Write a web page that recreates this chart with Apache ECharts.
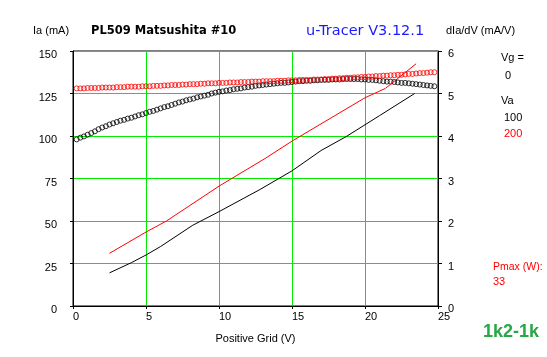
<!DOCTYPE html>
<html>
<head>
<meta charset="utf-8">
<script src="https://cdn.jsdelivr.net/npm/echarts@6/dist/echarts.min.js"></script>
<style>
html,body{margin:0;padding:0;background:#fff;}
#c{width:547px;height:357px;}
</style>
</head>
<body>
<div id="c"></div>
<script>
// Grid voltage steps for the gm (dIa/dV) measurements, V
var gmGridV = [
0.25,0.5,0.75,1.0,1.25,1.5,1.75,2.0,2.25,2.5,
2.75,3.0,3.25,3.5,3.75,4.0,4.25,4.5,4.75,5.0,
5.25,5.5,5.75,6.0,6.25,6.5,6.75,7.0,7.25,7.5,
7.75,8.0,8.25,8.5,8.75,9.0,9.25,9.5,9.75,10.0,
10.25,10.5,10.75,11.0,11.25,11.5,11.75,12.0,12.25,12.5,
12.75,13.0,13.25,13.5,13.75,14.0,14.25,14.5,14.75,15.0,
15.25,15.5,15.75,16.0,16.25,16.5,16.75,17.0,17.25,17.5,
17.75,18.0,18.25,18.5,18.75,19.0,19.25,19.5,19.75,20.0,
20.25,20.5,20.75,21.0,21.25,21.5,21.75,22.0,22.25,22.5,
22.75,23.0,23.25,23.5,23.75,24.0,24.25,24.5,24.75
];
// dIa/dV (mA/V), Va = 100 V
var gmVa100 = [
3.92,3.96,3.99,4.03,4.07,4.11,4.16,4.20,4.23,4.27,
4.30,4.33,4.36,4.38,4.41,4.43,4.46,4.49,4.51,4.54,
4.57,4.59,4.62,4.65,4.68,4.70,4.73,4.76,4.79,4.81,
4.84,4.86,4.88,4.91,4.93,4.95,4.97,5.00,5.02,5.04,
5.05,5.07,5.08,5.10,5.11,5.12,5.14,5.15,5.16,5.18,
5.19,5.20,5.21,5.22,5.23,5.24,5.25,5.25,5.26,5.27,
5.28,5.29,5.29,5.30,5.30,5.31,5.31,5.32,5.32,5.32,
5.33,5.33,5.33,5.34,5.34,5.34,5.34,5.34,5.33,5.33,
5.32,5.32,5.31,5.30,5.29,5.28,5.28,5.27,5.26,5.25,
5.25,5.24,5.23,5.22,5.21,5.20,5.19,5.18,5.17
];
// dIa/dV (mA/V), Va = 200 V
var gmVa200 = [
5.12,5.12,5.12,5.13,5.13,5.13,5.13,5.14,5.14,5.14,
5.14,5.15,5.15,5.15,5.16,5.16,5.16,5.16,5.17,5.17,
5.17,5.18,5.18,5.18,5.19,5.19,5.20,5.20,5.20,5.21,
5.21,5.22,5.22,5.22,5.23,5.23,5.24,5.24,5.24,5.25,
5.25,5.25,5.26,5.26,5.26,5.27,5.27,5.27,5.28,5.28,
5.28,5.29,5.29,5.29,5.29,5.30,5.30,5.30,5.31,5.31,
5.31,5.32,5.32,5.32,5.32,5.33,5.33,5.33,5.34,5.34,
5.35,5.35,5.36,5.36,5.37,5.37,5.38,5.38,5.39,5.39,
5.40,5.40,5.41,5.41,5.42,5.42,5.43,5.43,5.44,5.44,
5.45,5.46,5.46,5.47,5.48,5.48,5.49,5.50,5.50
];
// Anode current Ia (mA) vs positive grid voltage
var iaVa100GridV = [2.5,4,5,6,8.2,10,12.8,15,17,18.7,21,23.4];
var iaVa100 = [19.5,25.5,30,35,47.5,55.5,68.5,79.5,91.5,99.6,112,125];
var iaVa200GridV = [2.5,5,6.4,10,13.2,15,20,21.4,23.5];
var iaVa200 = [31,43.5,50,70.5,87,97,122.5,128,142.5];

var xTicks = [0,5,10,15,20,25];
var iaTicks = [0,25,50,75,100,125,150];
var gmTicks = [0,1,2,3,4,5,6];

function zip(a,b){ return a.map(function(v,i){ return [v,b[i]]; }); }

var FONT = "'Liberation Sans', Arial, sans-serif";
var DJ = "'DejaVu Sans', sans-serif";
var GREEN = '#00ee00';

var chart = echarts.init(document.getElementById('c'), null, {renderer:'canvas'});

function txt(x, y, text, color, font) {
  return {type:'text', x:x, y:y, silent:true,
    style:{text:text, fill:color, font:font, verticalAlign:'middle', align:'left'}};
}

chart.setOption({
  animation:false,
  backgroundColor:'#ffffff',
  grid:{left:73, right:109, top:51, bottom:51, show:true, borderColor:'#000', borderWidth:1, backgroundColor:'rgba(0,0,0,0)'},
  xAxis:{
    type:'value', min:xTicks[0], max:xTicks[xTicks.length-1], interval:5,
    name:'Positive Grid (V)', nameLocation:'middle', nameGap:27,
    nameTextStyle:{color:'#000', fontSize:11, fontFamily:FONT},
    axisLine:{show:true, lineStyle:{color:'#000', width:1}},
    axisTick:{show:true, length:3, lineStyle:{color:'#000'}},
    axisLabel:{color:'#000', fontSize:11, fontFamily:FONT, margin:5, align:'left'},
    splitLine:{show:true, lineStyle:{color:GREEN, width:1}}
  },
  yAxis:[{
    type:'value', min:iaTicks[0], max:iaTicks[iaTicks.length-1], interval:25, position:'left',
    axisLine:{show:true, lineStyle:{color:'#000', width:1}},
    axisTick:{show:true, length:3, lineStyle:{color:'#000'}},
    axisLabel:{color:'#000', fontSize:11, fontFamily:FONT, margin:16, verticalAlign:'top', lineHeight:8},
    splitLine:{show:true, lineStyle:{color:GREEN, width:1}}
  },{
    type:'value', min:gmTicks[0], max:gmTicks[gmTicks.length-1], interval:1, position:'right',
    axisLine:{show:true, lineStyle:{color:'#000', width:1}},
    axisTick:{show:true, length:4, lineStyle:{color:'#000'}},
    axisLabel:{color:'#000', fontSize:11, fontFamily:FONT, margin:10, verticalAlign:'top', lineHeight:6},
    splitLine:{show:false}
  }],
  series:[
    {type:'line', name:'Ia Va=100', yAxisIndex:0, data:zip(iaVa100GridV, iaVa100), showSymbol:false,
     lineStyle:{color:'#000', width:1}, itemStyle:{color:'#000'}},
    {type:'line', name:'Ia Va=200', yAxisIndex:0, data:zip(iaVa200GridV, iaVa200), showSymbol:false,
     lineStyle:{color:'#ff0000', width:1}, itemStyle:{color:'#ff0000'}},
    {type:'scatter', name:'gm Va=100', yAxisIndex:1, data:zip(gmGridV, gmVa100), symbol:'circle', symbolSize:5,
     itemStyle:{color:'rgba(0,0,0,0)', borderColor:'#000', borderWidth:1}},
    {type:'scatter', name:'gm Va=200', yAxisIndex:1, data:zip(gmGridV, gmVa200), symbol:'circle', symbolSize:5,
     itemStyle:{color:'rgba(0,0,0,0)', borderColor:'#ff0000', borderWidth:1}}
  ],
  graphic:[
    txt(33, 31, 'Ia (mA)', '#000', '11px ' + FONT),
    txt(91, 31, 'PL509 Matsushita #10', '#000', 'bold 11.5px ' + DJ),
    txt(306, 31, 'u-Tracer V3.12.1', '#1a1aff', '14.5px ' + DJ),
    txt(446, 31, 'dIa/dV (mA/V)', '#000', '11px ' + FONT),
    txt(501, 58, 'Vg =', '#000', '11px ' + FONT),
    txt(505, 76, '0', '#000', '11px ' + FONT),
    txt(501, 101, 'Va', '#000', '11px ' + FONT),
    txt(504, 118, '100', '#000', '11px ' + FONT),
    txt(504, 134, '200', '#ff0000', '11px ' + FONT),
    txt(493, 267, 'Pmax (W):', '#ff0000', '10.5px ' + FONT),
    txt(493, 282, '33', '#ff0000', '11px ' + FONT),
    txt(483, 332, '1k2-1k', '#28a745', 'bold 18px ' + FONT)
  ]
});
</script>
</body>
</html>
